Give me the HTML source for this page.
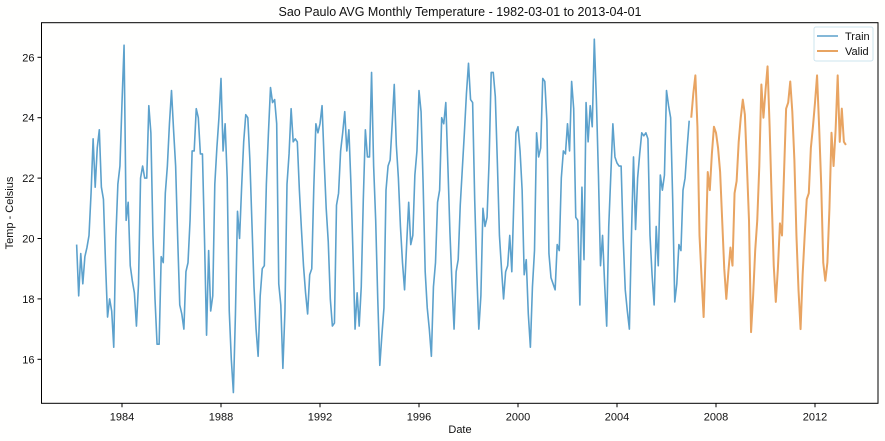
<!DOCTYPE html>
<html><head><meta charset="utf-8">
<style>
html,body{margin:0;padding:0;background:#fff;}
svg{display:block;font-family:"Liberation Sans","DejaVu Sans",sans-serif;}
</style></head>
<body>
<svg id="chart" width="885" height="441" viewBox="0 0 885 441">
<rect x="0" y="0" width="885" height="441" fill="#fffffe"/>
<text x="460" y="16" text-anchor="middle" font-size="12.5" fill="#111">Sao Paulo AVG Monthly Temperature - 1982-03-01 to 2013-04-01</text>
<g id="grid"></g>
<g id="series"></g>
<rect x="41.5" y="22.7" width="836.5" height="380.6" fill="none" stroke="#000" stroke-width="1"/>
<text x="460" y="433" text-anchor="middle" font-size="11" fill="#111">Date</text>
<text transform="translate(13,213) rotate(-90)" text-anchor="middle" font-size="11" fill="#111">Temp - Celsius</text>
<g>
<rect x="814" y="27" width="59" height="34" rx="2" fill="#fff" fill-opacity="0.8" stroke="#cce4ee"/>
<line x1="817" y1="36" x2="838" y2="36" stroke="#5ca1cc" stroke-width="1.5"/>
<text x="845" y="40" font-size="11" fill="#111">Train</text>
<line x1="817" y1="51" x2="838" y2="51" stroke="#e8a462" stroke-width="2"/>
<text x="845" y="55" font-size="11" fill="#111">Valid</text>
</g>
</svg>
<script>
// Train: monthly from 1982-03
const trainStart = [1982, 3];
const trainValues = [
19.8,18.1,19.5,18.5,19.4,19.7,20.1,21.5,23.3,21.7,
23.0,23.6,21.7,21.3,19.2,17.4,18.0,17.6,16.4,20.0,21.8,22.4,
24.5,26.4,20.6,21.2,19.1,18.6,18.2,17.1,18.5,22.0,22.4,22.0,
22.0,24.4,23.5,20.1,18.0,16.5,16.5,19.4,19.2,21.5,22.4,23.8,
24.9,23.6,22.4,20.0,17.8,17.5,17.0,18.9,19.2,20.6,22.9,22.9,
24.3,24.0,22.8,22.8,20.0,16.8,19.6,17.6,18.1,21.8,23.0,24.0,
25.3,22.9,23.8,22.0,17.6,16.0,14.9,17.5,20.9,20.0,21.7,23.2,
24.1,24.0,22.6,20.5,18.4,17.0,16.1,18.1,19.0,19.1,21.8,23.5,
25.0,24.5,24.6,23.8,18.5,17.8,15.7,17.6,21.8,22.8,24.3,23.2,
23.3,23.2,21.6,20.3,19.1,18.2,17.5,18.8,19.0,21.7,23.8,23.5,
23.8,24.4,22.6,21.0,19.9,18.0,17.1,17.2,21.1,21.5,22.9,23.5,
24.2,22.9,23.6,21.8,19.5,17.0,18.2,17.1,18.4,21.3,23.6,22.7,
22.7,25.5,22.4,20.6,18.0,15.8,16.8,17.7,21.6,22.4,22.6,23.8,
25.1,23.1,22.0,20.4,19.2,18.3,19.8,21.2,19.8,20.1,22.1,22.9,
24.9,24.2,21.8,18.9,17.7,17.0,16.1,18.4,19.2,21.2,21.6,24.0,
23.8,24.5,22.4,20.2,18.5,17.0,18.9,19.3,21.1,22.3,23.5,24.8,
25.8,24.6,24.5,21.3,18.9,17.0,18.1,21.0,20.4,20.7,22.6,25.5,
25.5,24.7,22.5,20.1,19.0,18.0,18.9,19.1,20.1,18.9,21.3,23.5,
23.7,22.9,21.6,18.8,19.3,17.5,16.4,18.4,19.6,23.5,22.7,23.0,
25.3,25.2,23.9,19.5,18.7,18.5,18.3,19.8,19.6,22.0,22.9,22.8,
23.8,22.9,25.2,24.3,20.7,20.6,17.8,21.7,19.3,24.5,23.2,24.4,
23.7,26.6,24.6,22.1,19.1,20.1,18.5,17.1,20.4,22.1,23.8,22.7,
22.5,22.4,22.4,20.0,18.3,17.6,17.0,20.1,22.7,20.3,22.0,22.8,
23.5,23.4,23.5,23.3,20.1,18.8,17.8,20.4,19.1,22.1,21.6,22.1,
24.9,24.4,24.0,21.3,17.9,18.5,19.8,19.6,21.6,22.0,23.0,23.9
];
// Valid: monthly from 2007-01
const validStart = [2007, 1];
const validValues = [
24.0,24.8,25.4,23.7,20.1,18.7,17.4,19.6,22.2,21.6,22.8,23.7,
23.5,23.0,22.2,20.6,19.0,18.0,18.9,19.7,19.1,21.5,21.9,23.2,
24.0,24.6,24.1,22.4,20.6,16.9,18.1,19.6,20.6,22.4,25.1,24.0,
24.9,25.7,23.7,21.3,19.1,17.9,19.0,20.5,20.1,22.2,24.3,24.5,
25.2,24.2,22.6,20.1,18.3,17.0,18.8,20.1,21.3,21.5,23.0,23.7,
24.5,25.4,23.7,21.8,19.2,18.6,19.2,21.0,23.5,22.4,23.6,25.4,
23.2,24.3,23.2,23.1
];
const yTicks = [16,18,20,22,24,26];
const xTicks = [1984,1988,1992,1996,2000,2004,2008,2012];

const NS = "http://www.w3.org/2000/svg";
const PL = 41.5, PR = 878, PT = 22.7, PB = 403.3;
function xScale(yr){ return 122 + (yr - 1984) * 24.75; }
function yScale(v){ return 57.3 + (26 - v) * 30.2; }
function monthYear(start, i){ return start[0] + (start[1] - 1 + i) / 12; }

const grid = document.getElementById('grid');
yTicks.forEach(t => {
  const y = yScale(t);
  const l = document.createElementNS(NS,'line');
  l.setAttribute('x1', PL - 4); l.setAttribute('x2', PL); l.setAttribute('y1', y); l.setAttribute('y2', y);
  l.setAttribute('stroke', '#000');
  
  
  grid.appendChild(l);
  const tx = document.createElementNS(NS,'text');
  tx.setAttribute('x', PL - 7); tx.setAttribute('y', y + 4);
  tx.setAttribute('text-anchor', 'end'); tx.setAttribute('font-size', '11'); tx.setAttribute('fill', '#111');
  tx.textContent = t;
  
  
  grid.appendChild(tx);
});
xTicks.forEach(t => {
  const x = xScale(t);
  const l = document.createElementNS(NS,'line');
  l.setAttribute('x1', x); l.setAttribute('x2', x); l.setAttribute('y1', PB); l.setAttribute('y2', PB + 4);
  l.setAttribute('stroke', '#000');
  
  
  grid.appendChild(l);
  const tx = document.createElementNS(NS,'text');
  tx.setAttribute('x', x); tx.setAttribute('y', PB + 17);
  tx.setAttribute('text-anchor', 'middle'); tx.setAttribute('font-size', '11'); tx.setAttribute('fill', '#111');
  tx.textContent = t;
  
  
  grid.appendChild(tx);
});

const series = document.getElementById('series');
function pathFor(start, vals){
  return vals.map((v,i) => (i ? 'L' : 'M') + xScale(monthYear(start,i)).toFixed(2) + ' ' + yScale(v).toFixed(2)).join(' ');
}
const tp = document.createElementNS(NS,'path');
tp.setAttribute('d', pathFor(trainStart, trainValues));
tp.setAttribute('fill', 'none'); tp.setAttribute('stroke', '#5ca1cc'); tp.setAttribute('stroke-width', '1.6');
tp.setAttribute('stroke-linejoin', 'round');


series.appendChild(tp);
const vp = document.createElementNS(NS,'path');
vp.setAttribute('d', pathFor(validStart, validValues));
vp.setAttribute('fill', 'none'); vp.setAttribute('stroke', '#e8a462'); vp.setAttribute('stroke-width', '2');
vp.setAttribute('stroke-linejoin', 'round');


series.appendChild(vp);
</script>
</body></html>
